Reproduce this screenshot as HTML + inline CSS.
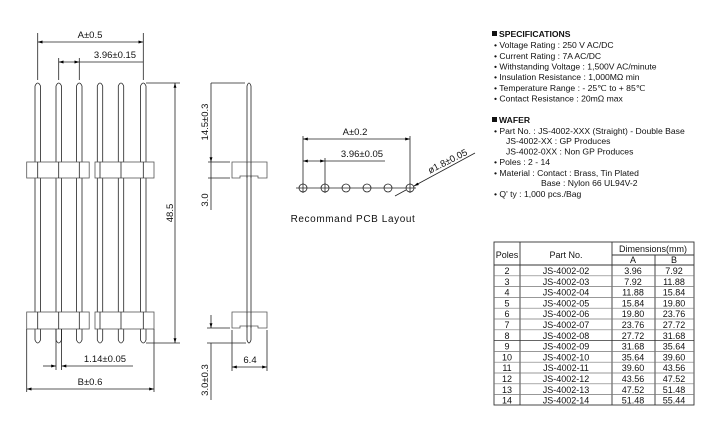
<!DOCTYPE html>
<html><head><meta charset="utf-8"><style>
html,body{margin:0;padding:0;background:#fff;}
svg{display:block;font-family:"Liberation Sans",sans-serif;}
.s{font-size:8.6px;fill:#111;}
.t{font-size:9.5px;fill:#111;}
</style></head><body>
<svg width="722" height="434" viewBox="0 0 722 434" xmlns="http://www.w3.org/2000/svg">
<defs>
<marker id="a" viewBox="0 0 10 10" refX="10" refY="5" markerWidth="6" markerHeight="6" orient="auto-start-reverse"><path d="M0,2 L10,5 L0,8 z" fill="#000"/></marker>
</defs>
<g stroke="#222" stroke-width="0.8" fill="none">
<!-- front view pins -->
<g id="pins">
<path d="M35,86 Q37.7,80 40.5,86 V340 Q37.7,346 35,340 Z"/>
<path d="M56,86 Q58.7,80 61.5,86 V340 Q58.7,346 56,340 Z"/>
<path d="M76.5,86 Q79.3,80 82,86 V340 Q79.3,346 76.5,340 Z"/>
<path d="M97.3,86 Q100,80 102.7,86 V340 Q100,346 97.3,340 Z"/>
<path d="M118.3,86 Q121,80 123.7,86 V340 Q121,346 118.3,340 Z"/>
<path d="M140.5,86 Q143.3,80 146,86 V340 Q143.3,346 140.5,340 Z"/>
</g>
<!-- housings -->
<g fill="#fff" stroke="#555">
<rect x="26.7" y="162" width="62.5" height="16"/>
<rect x="95" y="162" width="59" height="16"/>
<rect x="26.7" y="312" width="62.5" height="17"/>
<rect x="95" y="312" width="59" height="17"/>
</g>
<line x1="37.7" y1="162" x2="37.7" y2="178"/><line x1="58.7" y1="162" x2="58.7" y2="178"/><line x1="79.3" y1="162" x2="79.3" y2="178"/>
<line x1="100" y1="162" x2="100" y2="178"/><line x1="121" y1="162" x2="121" y2="178"/><line x1="143.3" y1="162" x2="143.3" y2="178"/>
<line x1="37.7" y1="312" x2="37.7" y2="329"/><line x1="58.7" y1="312" x2="58.7" y2="329"/><line x1="79.3" y1="312" x2="79.3" y2="329"/>
<line x1="100" y1="312" x2="100" y2="329"/><line x1="121" y1="312" x2="121" y2="329"/><line x1="143.3" y1="312" x2="143.3" y2="329"/>
<!-- dims front -->
<line x1="37.7" y1="33" x2="37.7" y2="80"/><line x1="143.3" y1="33" x2="143.3" y2="80"/>
<line x1="37.7" y1="42" x2="143.3" y2="42" marker-start="url(#a)" marker-end="url(#a)"/>
<line x1="58.7" y1="58" x2="58.7" y2="80"/><line x1="79.3" y1="58" x2="79.3" y2="80"/>
<line x1="58.7" y1="62" x2="79.3" y2="62" marker-start="url(#a)" marker-end="url(#a)"/>
<line x1="79.3" y1="62" x2="143.3" y2="62"/>
<line x1="146" y1="83" x2="180" y2="83"/><line x1="146" y1="343" x2="180" y2="343"/>
<line x1="175" y1="83" x2="175" y2="343" marker-start="url(#a)" marker-end="url(#a)"/>
<line x1="56" y1="329" x2="56" y2="370"/><line x1="61.5" y1="329" x2="61.5" y2="370"/>
<line x1="43" y1="366" x2="56" y2="366" marker-end="url(#a)"/>
<line x1="61.5" y1="366" x2="133" y2="366" marker-start="url(#a)"/>
<line x1="26.7" y1="329" x2="26.7" y2="392"/><line x1="154" y1="329" x2="154" y2="392"/>
<line x1="26.7" y1="389" x2="154" y2="389" marker-start="url(#a)" marker-end="url(#a)"/>
<!-- side view -->
<path d="M247,86 Q249,80 251,86 V340 Q249,346 247,340 Z"/>
<path d="M232,162 H267 V178 H258 V176 H240 V178 H232 Z" fill="#fff" stroke="#555"/>
<path d="M232,312 H267 V328 H258 V326 H240 V328 H232 Z" fill="#fff" stroke="#555"/>
<line x1="247" y1="162" x2="247" y2="178"/><line x1="251" y1="162" x2="251" y2="178"/>
<line x1="247" y1="312" x2="247" y2="328"/><line x1="251" y1="312" x2="251" y2="328"/>
<line x1="211" y1="83" x2="245" y2="83"/>
<line x1="211" y1="83" x2="211" y2="162" marker-end="url(#a)"/>
<line x1="208" y1="162" x2="230" y2="162"/><line x1="208" y1="178" x2="230" y2="178"/>
<line x1="211" y1="162" x2="211" y2="210"/>
<line x1="207" y1="328" x2="230" y2="328"/><line x1="207" y1="343" x2="246" y2="343"/>
<line x1="211" y1="315" x2="211" y2="328" marker-end="url(#a)"/>
<line x1="211" y1="343" x2="211" y2="400"/>
<line x1="232" y1="330" x2="232" y2="371"/><line x1="267" y1="330" x2="267" y2="371"/>
<line x1="232" y1="367" x2="267" y2="367" marker-start="url(#a)" marker-end="url(#a)"/>
<!-- PCB -->
<line x1="296" y1="188" x2="416" y2="188"/>
<g>
<circle cx="303" cy="188" r="4"/><circle cx="325" cy="188" r="4"/><circle cx="346" cy="188" r="4"/>
<circle cx="367" cy="188" r="4"/><circle cx="388" cy="188" r="4"/><circle cx="410" cy="188" r="4"/>
</g>
<line x1="303" y1="183" x2="303" y2="193"/><line x1="325" y1="183" x2="325" y2="193"/><line x1="410" y1="183" x2="410" y2="193"/>
<line x1="303" y1="136" x2="303" y2="184"/><line x1="410" y1="136" x2="410" y2="184"/>
<line x1="303" y1="139" x2="410" y2="139" marker-start="url(#a)" marker-end="url(#a)"/>
<line x1="325" y1="158" x2="325" y2="184"/>
<line x1="303" y1="161" x2="325" y2="161" marker-start="url(#a)" marker-end="url(#a)"/>
<line x1="325" y1="161" x2="385" y2="161"/>
<line x1="475" y1="153" x2="414" y2="186" marker-end="url(#a)"/>
<line x1="406" y1="190" x2="395" y2="196"/>
<!-- table -->
<g stroke="#333" stroke-width="0.9">
<rect x="494" y="242" width="200" height="163"/>
<line x1="520" y1="242" x2="520" y2="405"/><line x1="612" y1="242" x2="612" y2="405"/><line x1="655" y1="255" x2="655" y2="405"/>
<line x1="612" y1="255" x2="694" y2="255"/>
<line x1="494" y1="265" x2="694" y2="265"/>
</g>
<g stroke="#777" stroke-width="0.7">
<line x1="494" y1="275.8" x2="694" y2="275.8"/><line x1="494" y1="286.6" x2="694" y2="286.6"/><line x1="494" y1="297.4" x2="694" y2="297.4"/>
<line x1="494" y1="308.2" x2="694" y2="308.2"/><line x1="494" y1="319" x2="694" y2="319"/><line x1="494" y1="329.8" x2="694" y2="329.8"/>
<line x1="494" y1="340.6" x2="694" y2="340.6" stroke="#333"/><line x1="494" y1="351.4" x2="694" y2="351.4"/><line x1="494" y1="362.2" x2="694" y2="362.2"/>
<line x1="494" y1="373" x2="694" y2="373"/><line x1="494" y1="383.8" x2="694" y2="383.8"/><line x1="494" y1="394.6" x2="694" y2="394.6"/>
</g>
</g>
<!-- dim texts -->
<g class="t" text-anchor="middle">
<text x="90" y="38">A±0.5</text>
<text x="115" y="58">3.96±0.15</text>
<text x="105" y="362">1.14±0.05</text>
<text x="90" y="385">B±0.6</text>
<text x="250" y="363">6.4</text>
<text x="355" y="135">A±0.2</text>
<text x="362" y="157">3.96±0.05</text>
<text transform="translate(173,213) rotate(-90)">48.5</text>
<text transform="translate(208,122) rotate(-90)">14.5±0.3</text>
<text transform="translate(208,200) rotate(-90)">3.0</text>
<text transform="translate(208,380) rotate(-90)">3.0±0.3</text>
<text transform="translate(449,164) rotate(-27)">ø1.8±0.05</text>
<text x="353" y="222" style="font-size:10px;letter-spacing:0.6px">Recommand PCB Layout</text>
</g>
<!-- specs -->
<g class="s">
<rect x="492" y="31" width="5" height="5" fill="#111"/>
<text x="499" y="37" font-weight="bold">SPECIFICATIONS</text>
<text x="494" y="48">•  Voltage Rating : 250 V AC/DC</text>
<text x="494" y="59">•  Current Rating : 7A AC/DC</text>
<text x="494" y="69.5">•  Withstanding Voltage : 1,500V AC/minute</text>
<text x="494" y="80">•  Insulation Resistance : 1,000MΩ min</text>
<text x="494" y="91">•  Temperature Range : - 25℃ to + 85℃</text>
<text x="494" y="101.5">•  Contact Resistance : 20mΩ max</text>
<rect x="492" y="117" width="5" height="5" fill="#111"/>
<text x="499" y="123" font-weight="bold">WAFER</text>
<text x="494" y="134">•  Part No. : JS-4002-XXX (Straight) - Double Base</text>
<text x="506" y="144">JS-4002-XX : GP Produces</text>
<text x="506" y="154.5">JS-4002-0XX : Non GP Produces</text>
<text x="494" y="165">•  Poles : 2 - 14</text>
<text x="494" y="176">•  Material : Contact : Brass, Tin Plated</text>
<text x="541" y="186">Base : Nylon 66 UL94V-2</text>
<text x="494" y="197">•  Q' ty : 1,000 pcs./Bag</text>
</g>
<!-- table text -->
<g class="s" text-anchor="middle" style="font-size:9px">
<text x="507" y="258">Poles</text>
<text x="566" y="258">Part No.</text>
<text x="653" y="252">Dimensions(mm)</text>
<text x="633" y="263">A</text><text x="674" y="263">B</text>
</g>
<g class="s" text-anchor="middle" style="font-size:9px">
<text x="507" y="274">2</text><text x="566" y="274">JS-4002-02</text><text x="633" y="274">3.96</text><text x="674" y="274">7.92</text>
<text x="507" y="284.8">3</text><text x="566" y="284.8">JS-4002-03</text><text x="633" y="284.8">7.92</text><text x="674" y="284.8">11.88</text>
<text x="507" y="295.6">4</text><text x="566" y="295.6">JS-4002-04</text><text x="633" y="295.6">11.88</text><text x="674" y="295.6">15.84</text>
<text x="507" y="306.4">5</text><text x="566" y="306.4">JS-4002-05</text><text x="633" y="306.4">15.84</text><text x="674" y="306.4">19.80</text>
<text x="507" y="317.2">6</text><text x="566" y="317.2">JS-4002-06</text><text x="633" y="317.2">19.80</text><text x="674" y="317.2">23.76</text>
<text x="507" y="328">7</text><text x="566" y="328">JS-4002-07</text><text x="633" y="328">23.76</text><text x="674" y="328">27.72</text>
<text x="507" y="338.8">8</text><text x="566" y="338.8">JS-4002-08</text><text x="633" y="338.8">27.72</text><text x="674" y="338.8">31.68</text>
<text x="507" y="349.6">9</text><text x="566" y="349.6">JS-4002-09</text><text x="633" y="349.6">31.68</text><text x="674" y="349.6">35.64</text>
<text x="507" y="360.4">10</text><text x="566" y="360.4">JS-4002-10</text><text x="633" y="360.4">35.64</text><text x="674" y="360.4">39.60</text>
<text x="507" y="371.2">11</text><text x="566" y="371.2">JS-4002-11</text><text x="633" y="371.2">39.60</text><text x="674" y="371.2">43.56</text>
<text x="507" y="382">12</text><text x="566" y="382">JS-4002-12</text><text x="633" y="382">43.56</text><text x="674" y="382">47.52</text>
<text x="507" y="392.8">13</text><text x="566" y="392.8">JS-4002-13</text><text x="633" y="392.8">47.52</text><text x="674" y="392.8">51.48</text>
<text x="507" y="403.6">14</text><text x="566" y="403.6">JS-4002-14</text><text x="633" y="403.6">51.48</text><text x="674" y="403.6">55.44</text>
</g>
</svg>
</body></html>
